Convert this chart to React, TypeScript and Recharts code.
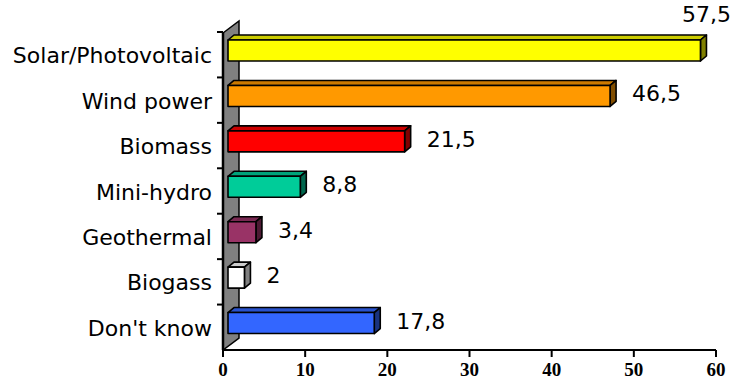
import React from 'react';
import { BarChart, Bar, XAxis, YAxis, Cell, LabelList, usePlotArea } from 'recharts';

const categories = [
  'Solar/Photovoltaic',
  'Wind power',
  'Biomass',
  'Mini-hydro',
  'Geothermal',
  'Biogass',
  "Don't know",
];
const shares = [57.5, 46.5, 21.5, 8.8, 3.4, 2, 17.8];
const barColors = ['#FFFF00', '#FF9900', '#FF0000', '#00CC99', '#993366', '#FFFFFF', '#3366FF'];
const xTicks = [0, 10, 20, 30, 40, 50, 60];

const data = categories.map((name, i) => ({ name, value: shares[i], color: barColors[i] }));

// fake 3D look, as in the old spreadsheet chart
const DEPTH_X = 6;
const DEPTH_Y = 5;
const SHIFT_X = 5;
const LIFT = 4;
const WALL_X = 16;
const WALL_Y = 12;

const labelFont = '"DejaVu Sans", Verdana, sans-serif';

function shade(hex: string, f: number) {
  const n = parseInt(hex.slice(1), 16);
  const r = Math.round(((n >> 16) & 255) * f);
  const g = Math.round(((n >> 8) & 255) * f);
  const b = Math.round((n & 255) * f);
  return `rgb(${r},${g},${b})`;
}

function Bar3D(props: any) {
  const { x, y, width, height, fill } = props;
  const x0 = x + SHIFT_X;
  const y0 = y - LIFT;
  const x1 = x0 + width;
  const y1 = y0 + height;
  return (
    <g stroke="#000" strokeWidth={1.6} strokeLinejoin="round">
      <polygon
        points={`${x0},${y0} ${x0 + DEPTH_X},${y0 - DEPTH_Y} ${x1 + DEPTH_X},${y0 - DEPTH_Y} ${x1},${y0}`}
        fill={shade(fill, 0.8)}
      />
      <polygon
        points={`${x1},${y0} ${x1 + DEPTH_X},${y0 - DEPTH_Y} ${x1 + DEPTH_X},${y1 - DEPTH_Y} ${x1},${y1}`}
        fill={shade(fill, 0.5)}
      />
      <rect x={x0} y={y0} width={width} height={height} fill={fill} />
    </g>
  );
}

function ValueLabel(props: any) {
  const { x, y, width, height, value } = props;
  const text = String(value).replace('.', ',');
  const end = x + width + SHIFT_X;
  const textW = text.length * 13;
  // no room on the right: put it above the bar end
  if (end + 20 + textW > 734) {
    return (
      <text x={end + DEPTH_X} y={y - LIFT - 26} textAnchor="middle" dominantBaseline="central"
        fontFamily={labelFont} fontSize={22} fill="#000">
        {text}
      </text>
    );
  }
  return (
    <text x={end + 22} y={y + height / 2 - 6} dominantBaseline="central"
      fontFamily={labelFont} fontSize={22} fill="#000">
      {text}
    </text>
  );
}

function Wall() {
  const area = usePlotArea();
  if (!area) return null;
  const { x, y, height } = area;
  const bottom = y + height;
  const step = height / categories.length;
  return (
    <g>
      <polygon
        points={`${x},${y + 1} ${x + WALL_X},${y + 1 - WALL_Y} ${x + WALL_X},${bottom - WALL_Y} ${x},${bottom}`}
        fill="#808080"
        stroke="#000"
        strokeWidth={1.5}
      />
      <line x1={x} y1={y + 1} x2={x} y2={bottom} stroke="#000" strokeWidth={2.5} />
      {categories.map((c, i) => (
        <line key={c} x1={x - 6} y1={y + i * step} x2={x} y2={y + i * step} stroke="#000" strokeWidth={2} />
      ))}
    </g>
  );
}

function CategoryTick(props: any) {
  const { y, payload } = props;
  return (
    <text x={212} y={y + 1} textAnchor="end" dominantBaseline="central"
      fontFamily={labelFont} fontSize={22} fill="#000">
      {payload.value}
    </text>
  );
}

export default function App() {
  return (
    <div style={{ position: 'absolute', left: 0, top: 0, background: '#fff' }}>
      <BarChart
        width={734}
        height={383}
        data={data}
        layout="vertical"
        margin={{ top: 32, right: 18, left: 0, bottom: 0 }}
        barSize={21}
      >
        <XAxis
          type="number"
          domain={[0, 60]}
          ticks={xTicks}
          height={33}
          axisLine={{ stroke: '#000', strokeWidth: 2 }}
          tickLine={{ stroke: '#000', strokeWidth: 2 }}
          tickSize={7}
          tickMargin={6}
          tick={{ fill: '#000', fontFamily: '"Liberation Serif", "Times New Roman", serif', fontWeight: 'bold', fontSize: 19 }}
        />
        <YAxis
          type="category"
          dataKey="name"
          width={223}
          axisLine={false}
          tickLine={false}
          tick={<CategoryTick />}
        />
        <Wall />
        <Bar dataKey="value" shape={<Bar3D />} isAnimationActive={false}>
          {data.map((d) => (
            <Cell key={d.name} fill={d.color} />
          ))}
          <LabelList dataKey="value" content={<ValueLabel />} />
        </Bar>
      </BarChart>
    </div>
  );
}
